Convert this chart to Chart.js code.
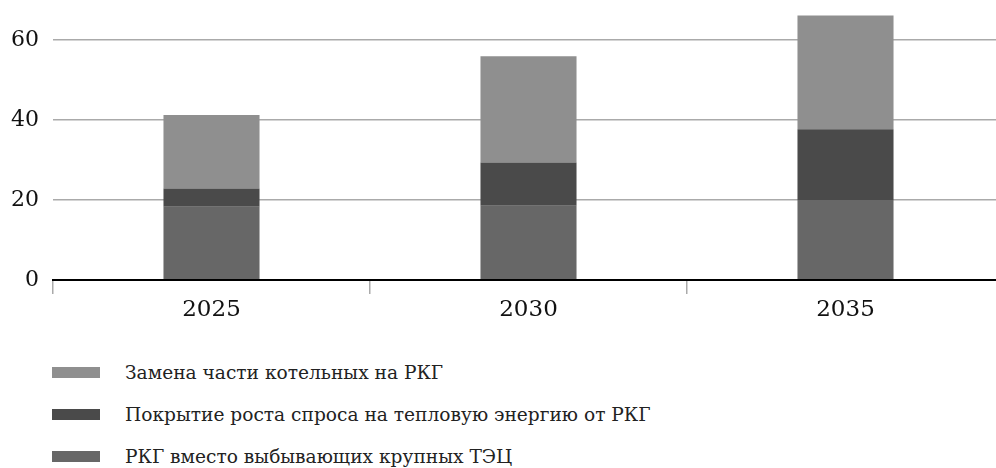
<!DOCTYPE html>
<html>
<head>
<meta charset="utf-8">
<script src="https://cdn.jsdelivr.net/npm/chart.js@4/dist/chart.umd.min.js"></script>
<style>
    html, body { margin: 0; padding: 0; background: #fff; overflow: hidden; }
    #wrap { position: absolute; left: 0; top: -27px; width: 1004px; height: 357px; }
    #legend { position: absolute; left: 52px; top: 351px; font-family: 'DejaVu Serif', serif; font-size: 18.6px; color: #222; }
    .item { display: flex; align-items: center; height: 42px; }
    .box { width: 48px; height: 11px; margin-right: 25px; }
</style>
</head>
<body>
<div id="wrap"><canvas id="chart"></canvas></div>
<div id="legend"></div>
<script>
// categories and values
const years = ['2025', '2030', '2035'];
const tecReplace = [18.3, 18.6, 20];     // РКГ вместо выбывающих крупных ТЭЦ
const demandGrowth = [4.6, 10.8, 17.7];  // Покрытие роста спроса
const boilerReplace = [18.4, 26.6, 28.5]; // Замена части котельных

const seriesNames = [
    'Замена части котельных на РКГ',
    'Покрытие роста спроса на тепловую энергию от РКГ',
    'РКГ вместо выбывающих крупных ТЭЦ'
];
const seriesColors = ['#8f8f8f', '#4a4a4a', '#676767'];

const ctx = document.getElementById('chart');

const chart = new Chart(ctx, {
    type: 'bar',
    data: {
        labels: years,
        datasets: [
            { label: seriesNames[2], data: tecReplace, backgroundColor: seriesColors[2] },
            { label: seriesNames[1], data: demandGrowth, backgroundColor: seriesColors[1] },
            { label: seriesNames[0], data: boilerReplace, backgroundColor: seriesColors[0] }
        ]
    },
    options: {
        responsive: true,
        maintainAspectRatio: false,
        animation: false,
        layout: { padding: 0 },
        datasets: {
            bar: { categoryPercentage: 1, barPercentage: 0.303 }
        },
        plugins: {
            legend: { display: false },
            tooltip: { enabled: false }
        },
        scales: {
            x: {
                stacked: true,
                grid: {
                    offset: true,
                    drawOnChartArea: false,
                    drawTicks: true,
                    tickLength: 14,
                    color: '#aaa',
                    lineWidth: 1.5
                },
                border: { display: true, color: '#000', width: 2, z: 1 },
                ticks: {
                    color: '#111',
                    padding: 2,
                    font: { family: "'DejaVu Serif', serif", size: 23 }
                },
                afterFit: (scale) => { scale.height = 50; }
            },
            y: {
                stacked: true,
                min: 0,
                max: 70,
                afterBuildTicks: (scale) => {
                    scale.ticks = scale.ticks.filter(t => t.value % 20 === 0);
                },
                ticks: {
                    stepSize: 20,
                    color: '#111',
                    padding: 14,
                    font: { family: "'DejaVu Serif', serif", size: 22 }
                },
                grid: { color: '#aaa', lineWidth: 1.5, drawTicks: false },
                border: { display: false },
                afterFit: (scale) => { scale.width = 53; }
            }
        }
    }
});

// legend (same order as the reference: top to bottom)
const legend = document.getElementById('legend');
seriesNames.forEach((name, i) => {
    const row = document.createElement('div');
    row.className = 'item';
    row.innerHTML = '<span class="box" style="background:' + seriesColors[i] + '"></span><span>' + name + '</span>';
    legend.appendChild(row);
});
</script>
</body>
</html>
